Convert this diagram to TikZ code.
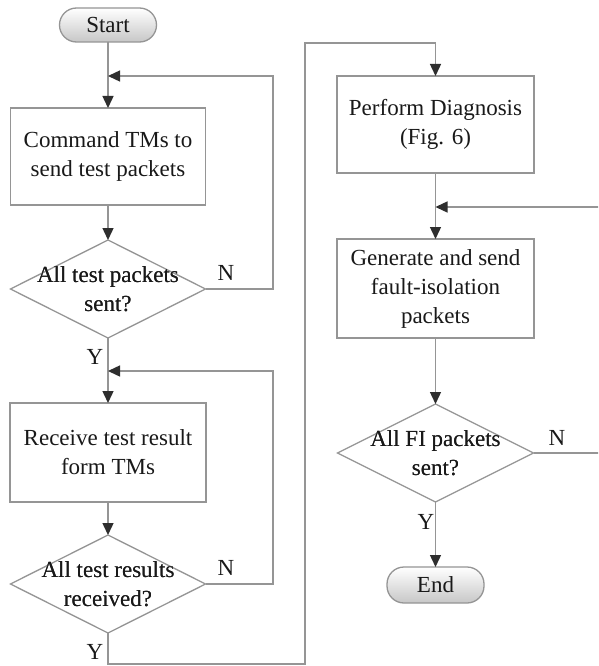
\documentclass[tikz,border=0pt]{standalone}
\usepackage{fontspec}
\setmainfont{Liberation Serif}
\usetikzlibrary{arrows.meta}
\definecolor{linegray}{HTML}{959595}
\definecolor{tipgray}{HTML}{2E2E2E}
\begin{document}
\begin{tikzpicture}[x=1pt,y=-1pt,
  font=\fontsize{23}{29}\selectfont,
  every node/.style={inner sep=0pt,outer sep=0pt,text=black!90},
  conn/.style={draw=linegray,line width=1.4pt},
  arr/.style={conn,-{Triangle[length=12pt,width=11pt,fill=tipgray,color=tipgray]}},
  procbox/.style={draw=linegray,line width=1.3pt,fill=white,align=center},
  decbox/.style={align=center},
  termbox/.style={draw=linegray,line width=1.3pt,rounded corners=17pt,
    top color=white,bottom color=black!22,align=center},
  lbl/.style={font=\fontsize{23}{29}\selectfont}]
\useasboundingbox (0,0) rectangle (598,666);
\clip (0,0) rectangle (598,666);
\fill[white] (0,0) rectangle (598,666);

% left column
\node[termbox,minimum width=97pt,minimum height=34pt] (start) at (108,25) {Start};
\node[procbox,minimum width=195pt,minimum height=97pt] (box1) at (108,156.5)
  {Command TMs to\\send test packets};
\node[decbox,minimum width=195pt,minimum height=98pt] (dia1) at (108,289) {};
\node[decbox] (t1) at (108,289) {All test packets\\sent?};
\node[procbox,minimum width=196pt,minimum height=99pt] (box2) at (108,452.5)
  {Receive test result\\form TMs};
\node[decbox,minimum width=195pt,minimum height=98pt] (dia2) at (108,584) {};
\node[decbox] (t2) at (108,584) {All test results\\received?};

% right column
\node[procbox,minimum width=197pt,minimum height=97pt] (box3) at (435.5,124.5)
  {Perform Diagnosis\\(Fig. 6)};
\node[procbox,minimum width=197pt,minimum height=99pt] (box4) at (435.5,288.5)
  {Generate and send\\fault-isolation\\packets};
\node[decbox,minimum width=196pt,minimum height=98pt] (dia3) at (435.5,453) {};
\node[decbox] (t3) at (435.5,453) {All FI packets\\sent?};
\node[termbox,minimum width=97pt,minimum height=36pt] (end) at (435.5,585) {End};

% decision outlines
\foreach \d in {dia1,dia2,dia3}
  \draw[draw=linegray,line width=1.3pt]
    (\d.north) -- (\d.east) -- (\d.south) -- (\d.west) -- cycle;
\node[decbox] at (t1) {All test packets\\sent?};
\node[decbox] at (t2) {All test results\\received?};
\node[decbox] at (t3) {All FI packets\\sent?};

% junction points of the return loops
\coordinate (j1) at (108,76);
\coordinate (j2) at (108,371);
\coordinate (j3) at (435.5,207);
\coordinate (c1) at (273,289);
\coordinate (c2) at (273,584);
\coordinate (c3) at (606,453);
\coordinate (b1) at (108,664);
\coordinate (b2) at (305,664);
\coordinate (b3) at (305,43);
\coordinate (b4) at (435.5,43);

% main flow
\draw[arr] (start.south) -- (box1.north);
\draw[arr] (box1.south) -- (dia1.north);
\draw[arr] (dia1.south) -- (box2.north);
\draw[arr] (box2.south) -- (dia2.north);
\draw[conn] (dia2.south) -- (b1) -- (b2) -- (b3) -- (b4);
\draw[arr] (b4) -- (box3.north);
\draw[arr] (box3.south) -- (box4.north);
\draw[arr] (box4.south) -- (dia3.north);
\draw[arr] (dia3.south) -- (end.north);

% return loops
\draw[arr] (dia1.east) -- (c1) |- (j1);
\draw[arr] (dia2.east) -- (c2) |- (j2);
\draw[arr] (dia3.east) -- (c3) |- (j3);

% branch labels
\node[lbl] (n1) at (226,273) {N};
\node[lbl] (n2) at (226,568) {N};
\node[lbl] (n3) at (557,438) {N};
\node[lbl] (y1) at (95,357) {Y};
\node[lbl] (y2) at (95,652) {Y};
\node[lbl] (y3) at (426,522) {Y};
\end{tikzpicture}
\end{document}
